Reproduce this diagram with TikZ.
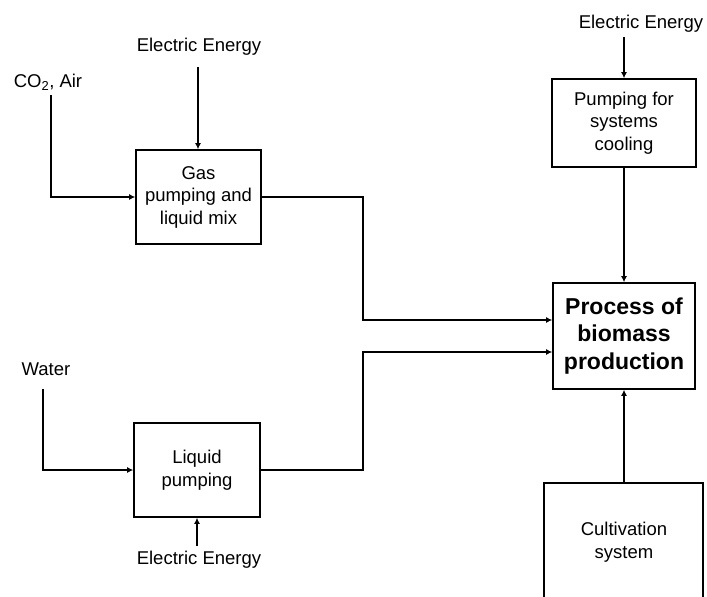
\documentclass[tikz,border=0pt]{standalone}
\usepackage{fontspec}
\setmainfont{Liberation Sans}
\usetikzlibrary{arrows.meta}
\begin{document}
\begin{tikzpicture}[x=1pt,y=-1pt,
  txt/.style={font=\fontsize{18.5}{22.5}\selectfont, align=center, inner sep=0pt},
  boxn/.style={draw, line width=1.6pt, txt, minimum width=#1},
  flow/.style={line width=1.6pt, -{Latex[length=6pt,width=6pt]}},
  plain/.style={line width=1.6pt}]
\useasboundingbox (0,0) rectangle (707,597);
\fill[white] (0,0) rectangle (707,597);
% boxes
\node[boxn=125pt, minimum height=94pt] (gas) at (198.5,197) {Gas\\pumping and\\liquid mix};
\node[boxn=144pt, minimum height=88pt] (cool) at (624,123) {Pumping for\\systems\\cooling};
\node[draw, line width=1.6pt, align=center, inner sep=0pt, minimum width=142pt, minimum height=106pt,
      font=\fontsize{23}{27.5}\selectfont\bfseries] (proc) at (624,336) {Process of\\biomass\\production};
\node[boxn=126pt, minimum height=94pt] (liq) at (197,470) {Liquid\\pumping};
\node[txt] (cult) at (624,542) {Cultivation\\system};
\draw[plain] (544,600) -- (544,483) -- (703,483) -- (703,600);
\coordinate (cultTop) at (624,483);
% labels
\node[txt] (co2) at (48,82) {CO\textsubscript{2}, Air};
\node[txt] (water) at (46,369) {Water};
\node[txt] (ee1) at (199,47) {Electric Energy};
\node[txt] (ee2) at (641,24) {Electric Energy};
\node[txt] (ee3) at (199,560) {Electric Energy};
% start coordinates
\coordinate (co2s) at (51,95);
\coordinate (waters) at (43,389);
\coordinate (ee1s) at (198,67);
\coordinate (ee2s) at (624,37);
\coordinate (ee3s) at (197,546);
% connectors
\draw[flow] (co2s) |- (gas.west);
\draw[flow] (ee1s) -- (ee1s |- gas.north);
\draw[flow] (ee2s) -- (cool.north);
\draw[flow] (cool.south) -- (proc.north);
\draw[flow] (gas.east) -| (363,258) |- ([yshift=16pt]proc.west);
\draw[flow] (waters) |- (liq.west);
\draw[flow] (ee3s) -- (liq.south);
\draw[flow] (liq.east) -| (363,420) |- ([yshift=-16pt]proc.west);
\draw[flow] (cultTop) -- (proc.south);
\end{tikzpicture}
\end{document}
